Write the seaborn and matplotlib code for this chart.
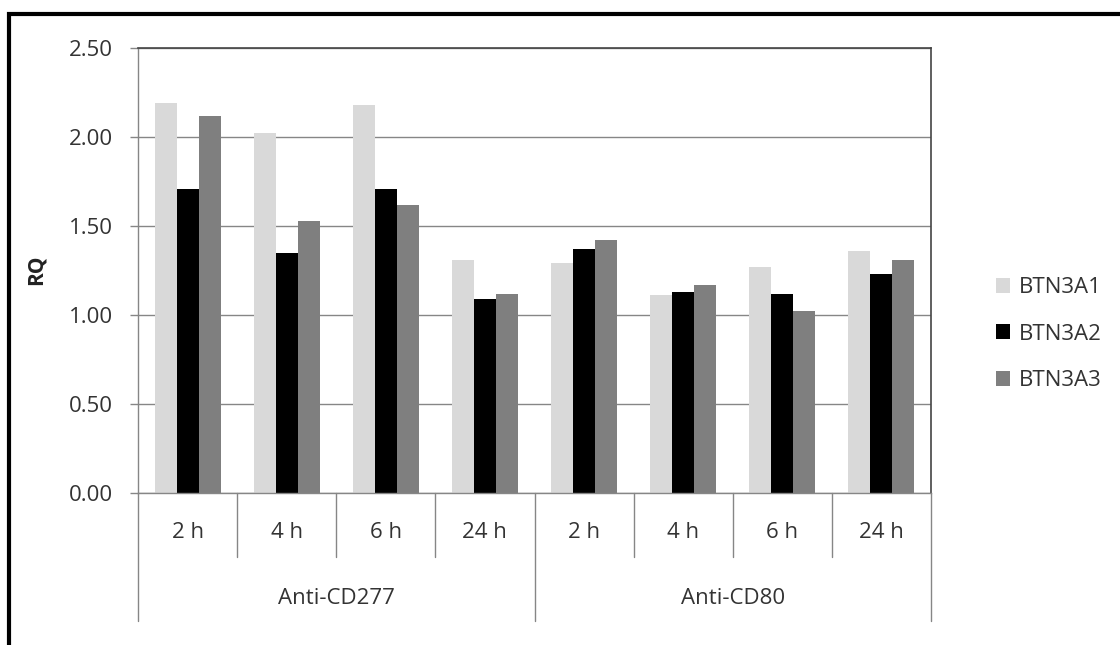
import matplotlib
matplotlib.use("Agg")
import matplotlib.pyplot as plt
import seaborn as sns
import pandas as pd
from matplotlib.lines import Line2D
from matplotlib.patches import Rectangle

treatments = ["Anti-CD277", "Anti-CD80"]
times = ["2 h", "4 h", "6 h", "24 h"]
genes = ["BTN3A1", "BTN3A2", "BTN3A3"]
btn3a1 = [2.19, 2.02, 2.18, 1.31, 1.29, 1.11, 1.27, 1.36]
btn3a2 = [1.71, 1.35, 1.71, 1.09, 1.37, 1.13, 1.12, 1.23]
btn3a3 = [2.12, 1.53, 1.62, 1.12, 1.42, 1.17, 1.02, 1.31]
colors = ["#d9d9d9", "#000000", "#7f7f7f"]
yticks = [0.0, 0.5, 1.0, 1.5, 2.0, 2.5]

cats = [f"{t}|{h}" for t in treatments for h in times]
rows = []
for g, vals in zip(genes, [btn3a1, btn3a2, btn3a3]):
    for c, v in zip(cats, vals):
        rows.append({"cat": c, "gene": g, "RQ": v})
df = pd.DataFrame(rows)

sns.set_style("white")
plt.rcParams["font.family"] = ["Open Sans", "DejaVu Sans"]

FS = 16
TXT = "#333333"
W, H = 1120, 645
fig = plt.figure(figsize=(W / 100, H / 100), dpi=100)
L, R, T, B = 138, 931, 48, 493
ax = fig.add_axes([L / W, 1 - B / H, (R - L) / W, (B - T) / H])

sns.barplot(data=df, x="cat", y="RQ", hue="gene", order=cats, hue_order=genes,
            palette=colors, width=0.665, gap=0, saturation=1, ax=ax,
            edgecolor="none", linewidth=0, errorbar=None, legend=False)

ax.set_xlim(-0.5, len(cats) - 0.5)
ax.set_ylim(0, 2.5)
ax.set_yticks(yticks)
ax.set_yticklabels([f"{v:.2f}" for v in yticks], fontsize=FS, color=TXT)
ax.yaxis.grid(True, color="#868686", linewidth=1)
ax.set_axisbelow(True)
ax.tick_params(axis="y", left=True, length=6, width=1, color="#868686", pad=12)
ax.set_xticks([])
ax.set_xlabel("")
ax.set_ylabel("")
for s in ["left", "bottom"]:
    ax.spines[s].set_color("#868686")
    ax.spines[s].set_linewidth(1)
for s in ["top", "right"]:
    ax.spines[s].set_color("#444444")
    ax.spines[s].set_linewidth(1.2)

fig.text(36 / W, 1 - 270 / H, "RQ", rotation=90, ha="center", va="center",
         fontsize=FS - 1, fontweight="bold", color="#222222")

# category axis (two levels)
trans = ax.get_xaxis_transform()
px = 1 / (B - T)
n = len(times)
for i in range(1, len(cats)):
    if i % n == 0:
        continue
    ax.add_line(Line2D([i - 0.5, i - 0.5], [0, -64 * px], transform=trans,
                       color="#868686", lw=1, clip_on=False))
for i in range(0, len(cats) + 1, n):
    ax.add_line(Line2D([i - 0.5, i - 0.5], [0, -128 * px], transform=trans,
                       color="#868686", lw=1, clip_on=False))
for i, c in enumerate(cats):
    ax.text(i, -39 * px, c.split("|")[1], transform=trans, ha="center", va="center",
            fontsize=FS, color=TXT)
for j, t in enumerate(treatments):
    ax.text(j * n + (n - 1) / 2, -105 * px, t, transform=trans, ha="center",
            va="center", fontsize=FS, color=TXT)

# legend
handles = [Rectangle((0, 0), 1, 1, facecolor=c, edgecolor="none") for c in colors]
leg = fig.legend(handles, genes, loc="center left", bbox_to_anchor=(996 / W, 1 - 334 / H),
                 frameon=False, fontsize=FS, handlelength=0.65, handleheight=0.65,
                 labelspacing=1.15, handletextpad=0.4, borderpad=0, borderaxespad=0)
for t in leg.get_texts():
    t.set_color(TXT)

# outer frame
fig.add_artist(Rectangle((9 / W, -0.1), 1.2, 1 - 14 / H + 0.1, transform=fig.transFigure,
                         fill=False, edgecolor="black", linewidth=3, clip_on=False))

fig.savefig("out.png", dpi=100)
